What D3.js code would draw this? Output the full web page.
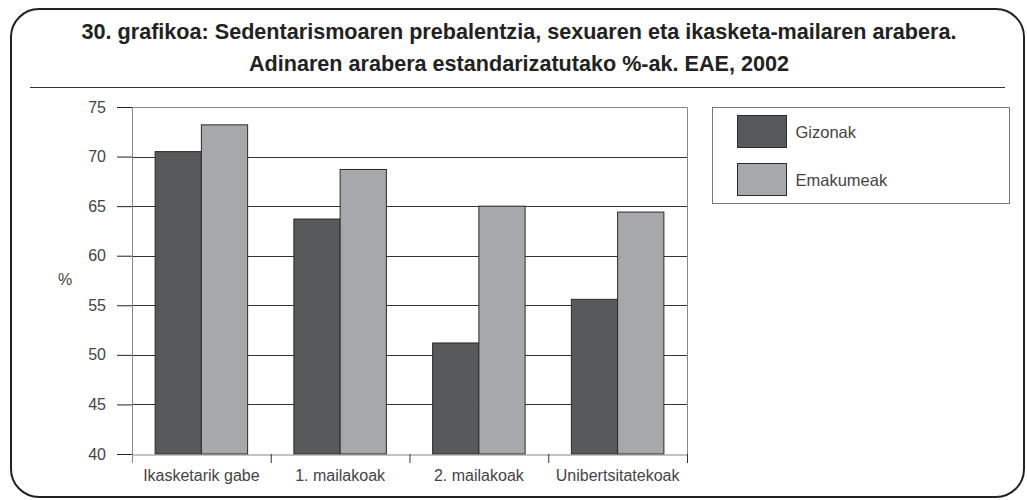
<!DOCTYPE html>
<html>
<head>
<meta charset="utf-8">
<script src="https://cdn.jsdelivr.net/npm/d3@7"></script>
<style>
  body { margin: 0; background: #fff; }
  svg text { font-family: "Liberation Sans", Arial, sans-serif; }
</style>
</head>
<body>
<div id="chart"></div>
<script>
// Chart data
const categories = ["Ikasketarik gabe", "1. mailakoak", "2. mailakoak", "Unibertsitatekoak"];
const seriesNames = ["Gizonak", "Emakumeak"];
const gizonak = [70.5, 63.7, 51.2, 55.6];
const emakumeak = [73.2, 68.7, 65.0, 64.4];
const yTicks = [40, 45, 50, 55, 60, 65, 70, 75];
const titleLines = [
    "30. grafikoa: Sedentarismoaren prebalentzia, sexuaren eta ikasketa-mailaren arabera.",
    "Adinaren arabera estandarizatutako %-ak. EAE, 2002"
];

const width = 1027, height = 500;
const colors = {"Gizonak": "#58595b", "Emakumeak": "#a7a8ab"};

// plot area
const plot = {left: 132, right: 687, top: 107, bottom: 454};

let svg = d3.select("#chart")
    .append("svg")
    .attr("width", width)
    .attr("height", height);

// outer rounded frame
svg.append("rect")
    .attr("x", 11)
    .attr("y", 9)
    .attr("width", 1013)
    .attr("height", 488)
    .attr("rx", 28)
    .style("fill", "none")
    .style("stroke", "#222")
    .style("stroke-width", 2);

// title
svg.selectAll(".title")
    .data(titleLines)
    .enter()
    .append("text")
    .attr("class", "title")
    .attr("x", 519)
    .attr("y", (d, i) => 39 + i * 32)
    .style("text-anchor", "middle")
    .style("font-weight", "bold")
    .style("font-size", "21.6px")
    .style("fill", "#222")
    .text(d => d);

// separator under title
svg.append("line")
    .attr("x1", 30).attr("x2", 1005)
    .attr("y1", 87.5).attr("y2", 87.5)
    .style("stroke", "#333");

// scales
let x0 = d3.scaleBand()
    .domain(categories)
    .range([plot.left, plot.right]);

let x1 = d3.scaleBand()
    .domain(seriesNames)
    .range([x0.bandwidth() / 6, x0.bandwidth() * 5 / 6]);

let y = d3.scaleLinear()
    .domain([40, 75])
    .range([plot.bottom, plot.top]);

// gridlines
svg.append("g")
    .selectAll("line")
    .data(yTicks.filter(d => d > 40 && d < 75))
    .enter()
    .append("line")
    .attr("x1", plot.left).attr("x2", plot.right)
    .attr("y1", d => Math.round(y(d)) + 0.5)
    .attr("y2", d => Math.round(y(d)) + 0.5)
    .style("stroke", "#333");

// plot frame top + right
svg.append("path")
    .attr("d", `M${plot.left},${plot.top + 0.5}H${plot.right + 0.5}V${plot.bottom}`)
    .style("fill", "none")
    .style("stroke", "#888");

// bars
let rows = categories.map((c, i) => ({cat: c, values: [
    {key: "Gizonak", value: gizonak[i]},
    {key: "Emakumeak", value: emakumeak[i]}
]}));

svg.append("g")
    .selectAll("g")
    .data(rows)
    .enter()
    .append("g")
    .attr("transform", d => `translate(${x0(d.cat)},0)`)
    .selectAll("rect")
    .data(d => d.values)
    .enter()
    .append("rect")
    .attr("x", d => x1(d.key))
    .attr("y", d => y(d.value))
    .attr("width", x1.bandwidth())
    .attr("height", d => y(40) - y(d.value))
    .style("fill", d => colors[d.key])
    .style("stroke", "#2a2a2a")
    .style("stroke-width", 1);

// y axis
let yAxis = svg.append("g")
    .attr("transform", `translate(${plot.left},0)`)
    .call(d3.axisLeft(y).tickValues(yTicks).tickSize(15).tickPadding(11));
yAxis.select(".domain").remove();
yAxis.selectAll(".tick line").style("stroke", "#222");
yAxis.selectAll("text")
    .style("font-size", "16px")
    .style("fill", "#444");

svg.append("line")
    .attr("x1", plot.left + 0.5).attr("x2", plot.left + 0.5)
    .attr("y1", plot.top).attr("y2", plot.bottom + 9)
    .style("stroke", "#888");

// x axis
let xAxis = svg.append("g")
    .attr("transform", `translate(0,${plot.bottom + 0.5})`)
    .call(d3.axisBottom(x0).tickSize(0).tickPadding(15));
xAxis.select(".domain").style("stroke", "#888");
xAxis.selectAll("text")
    .style("font-size", "16px")
    .style("fill", "#444");

// category separators below the axis
svg.append("g")
    .selectAll("line")
    .data(categories)
    .enter()
    .append("line")
    .attr("x1", d => x0(d) + x0.bandwidth() + 0.5)
    .attr("x2", d => x0(d) + x0.bandwidth() + 0.5)
    .attr("y1", plot.bottom)
    .attr("y2", plot.bottom + 9)
    .style("stroke", "#333");

// y label
svg.append("text")
    .attr("x", 65)
    .attr("y", 285)
    .style("text-anchor", "middle")
    .style("font-size", "16px")
    .style("fill", "#444")
    .text("%");

// legend
let legend = svg.append("g");
legend.append("rect")
    .attr("x", 712.5).attr("y", 107.5)
    .attr("width", 297).attr("height", 96)
    .style("fill", "none")
    .style("stroke", "#777");

let items = legend.selectAll(".item")
    .data(seriesNames)
    .enter()
    .append("g")
    .attr("transform", (d, i) => `translate(737.5,${115.5 + i * 48})`);
items.append("rect")
    .attr("width", 49).attr("height", 32)
    .style("fill", d => colors[d])
    .style("stroke", "#2a2a2a");
items.append("text")
    .attr("x", 58)
    .attr("y", 22)
    .style("font-size", "16.5px")
    .style("fill", "#444")
    .text(d => d);
</script>
</body>
</html>
